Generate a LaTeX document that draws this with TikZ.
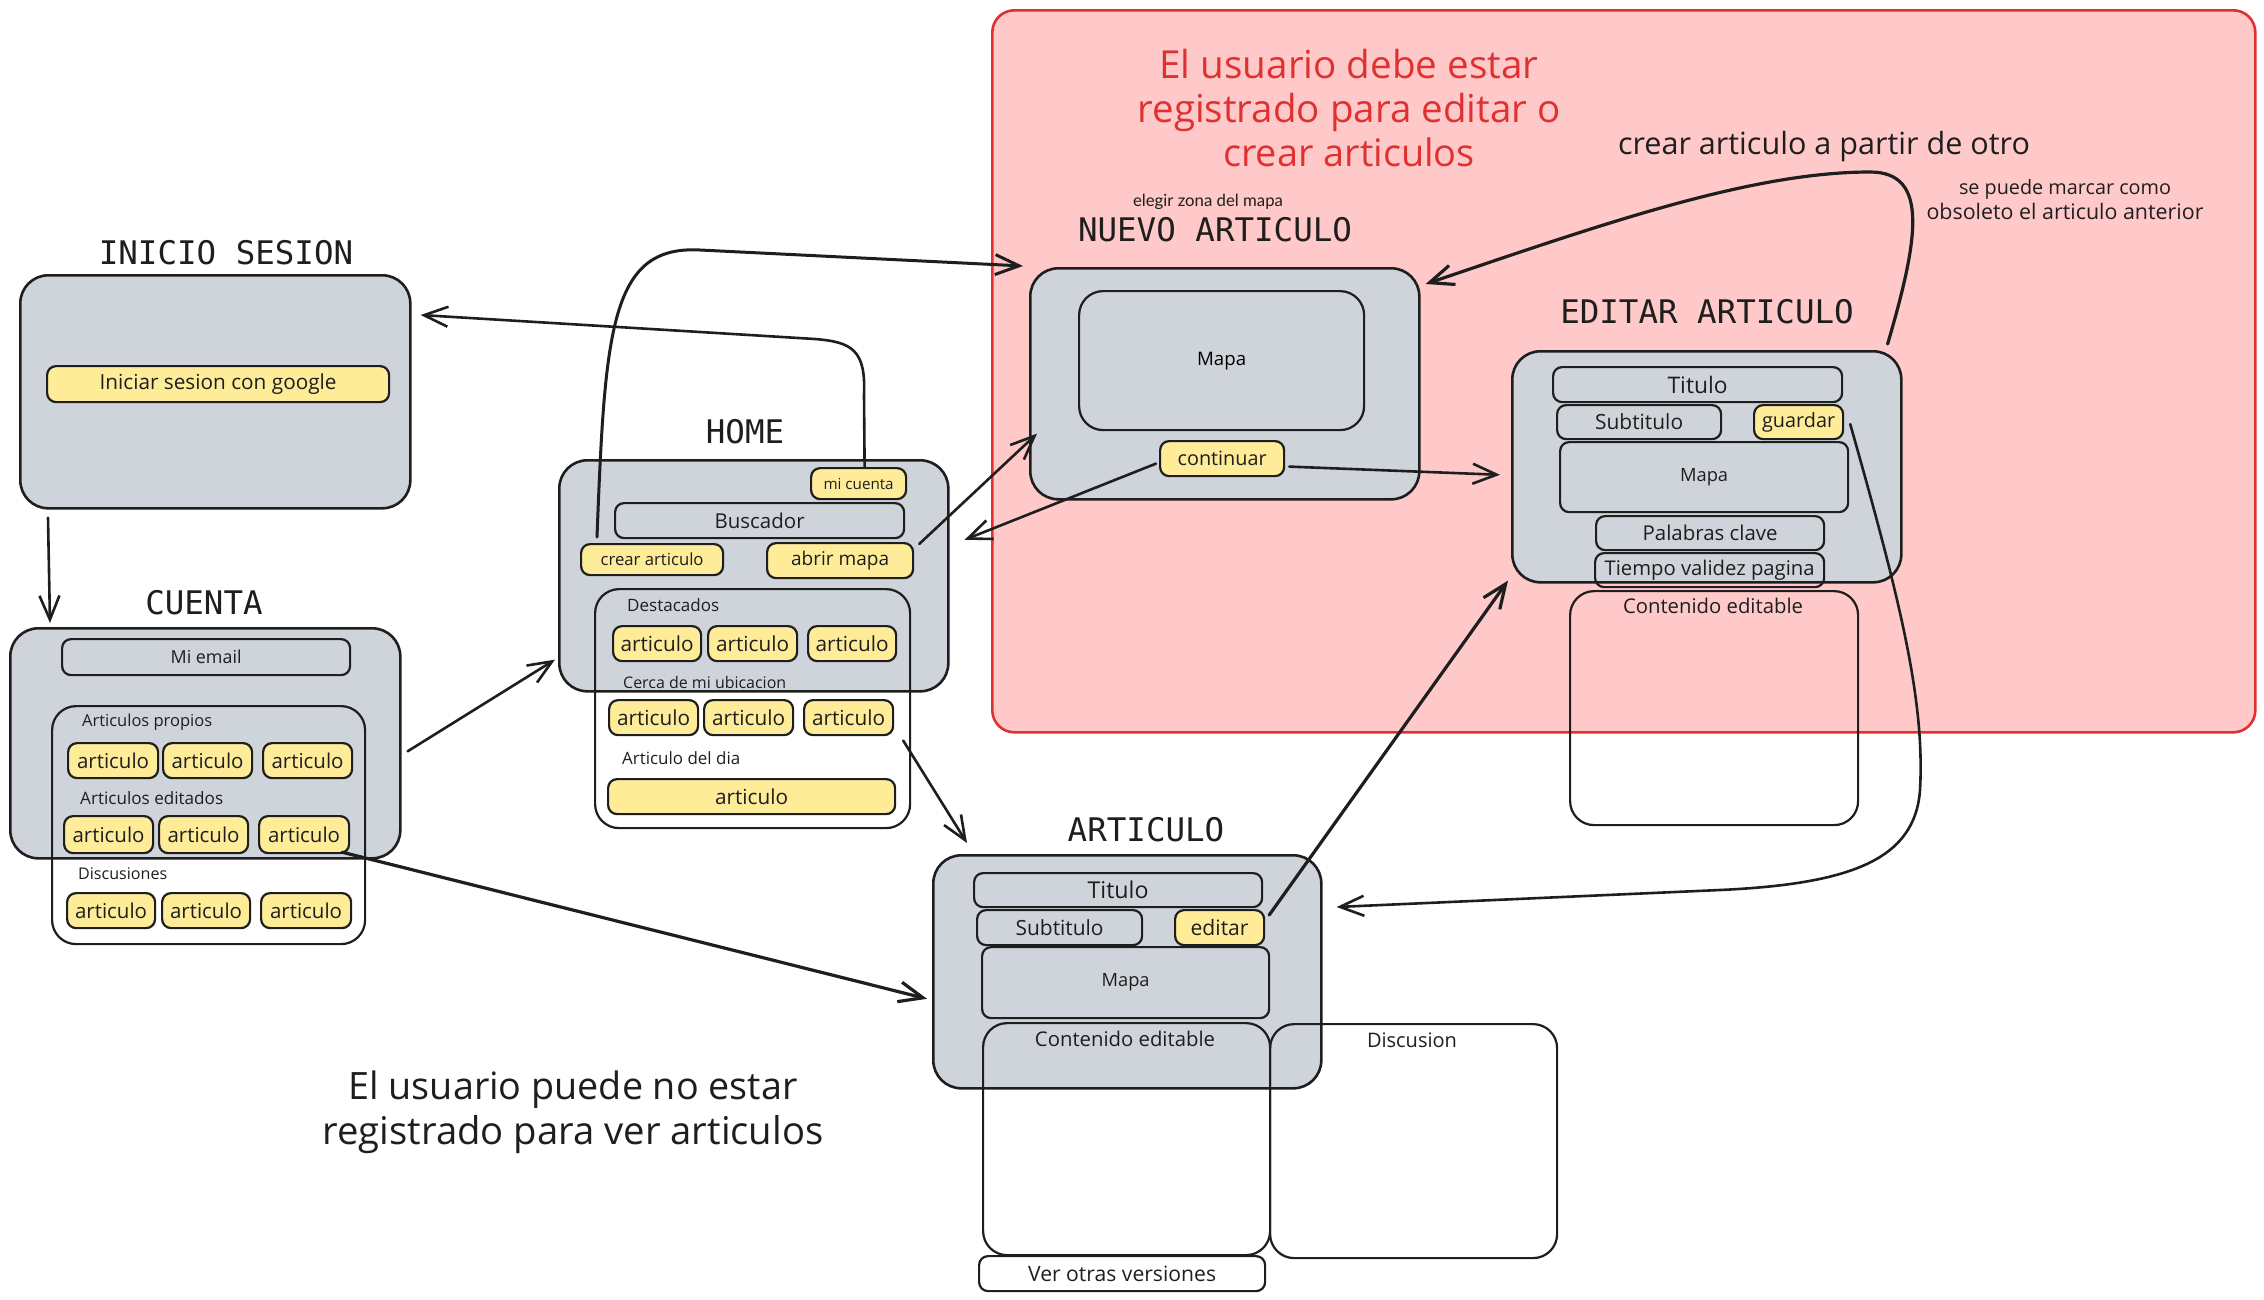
\documentclass[tikz,border=0pt]{standalone}
\usepackage{fontspec}
\usepackage{graphicx}
\setmainfont{Open Sans}
\newfontfamily\titlefont{DejaVu Sans Mono}
\newfontfamily\normfont{Lato}
\usetikzlibrary{arrows.meta,calc}
\definecolor{ink}{HTML}{1E1E1E}
\definecolor{scr}{HTML}{CED4DA}
\definecolor{btn}{HTML}{FFEC99}
\definecolor{zonefill}{HTML}{FFC9C9}
\definecolor{zonered}{HTML}{E03131}
\newcommand\lbl[2]{\resizebox{#1pt}{!}{#2}}
\newcommand\mybox[7]{\node[#1, anchor=north west, minimum width={(#5-#3)*1pt}, minimum height={(#6-#4)*1pt}] (#2) at (#3,#4) {#7};}
\tikzset{
  screen/.style={draw=ink, fill=scr, line width=2.6pt, rounded corners=28pt, inner sep=0pt},
  field/.style={draw=ink, line width=2.2pt, rounded corners=9pt, inner sep=0pt, text=ink},
  button/.style={field, fill=btn},
  panel/.style={draw=ink, line width=2.2pt, rounded corners=24pt, inner sep=0pt},
  redzone/.style={draw=zonered, fill=zonefill, line width=2.6pt, rounded corners=22pt, inner sep=0pt},
  ttl/.style={font=\titlefont\fontsize{32.5}{39}\selectfont, text=ink, inner sep=0pt},
  lab/.style={text=ink, inner sep=0pt},
  arr/.style={draw=ink, line width=2.6pt, line cap=round, -{Straight Barb[length=24pt,width=20pt]}},
}
\begin{document}
\begin{tikzpicture}[x=1pt,y=-1pt]
\useasboundingbox (0,0) rectangle (2264,1299);

% registered-users zone
\mybox{redzone}{zone}{991}{9}{2254}{731}{}
\node[lab, text=zonered, align=center, font=\fontsize{30}{44}\selectfont] (note1) at (1349,108)
  {\lbl{379}{El usuario debe estar}\\\lbl{423}{registrado para editar o}\\\lbl{252}{crear articulos}};
\node[lab] (note2) at (1824,147) {\lbl{412}{crear articulo a partir de otro}};
\node[lab, align=center, font=\fontsize{16}{25}\selectfont] (note3) at (2065,200)
  {\lbl{212}{se puede marcar como}\\\lbl{277}{obsoleto el articulo anterior}};
\node[lab, align=center, font=\fontsize{30}{45}\selectfont] (note4) at (573,1112)
  {\lbl{449}{El usuario puede no estar}\\\lbl{501}{registrado para ver articulos}};

% INICIO SESION
\node[ttl] (tinicio) at (226,253) {INICIO SESION};
\mybox{screen}{inicio}{19}{274}{409}{507}{}
\mybox{button}{google}{46}{365}{388}{401}{\lbl{237}{Iniciar sesion con google}}

% CUENTA
\node[ttl] (tcuenta) at (204,603) {CUENTA};
\mybox{screen}{cuenta}{9}{627}{399}{857}{}
\mybox{field}{email}{61}{638}{349}{674}{\lbl{71}{Mi email}}
\mybox{panel}{cinner}{51}{705}{364}{943}{}
\node[lab, anchor=west] (lprop) at (82,722) {\lbl{130}{Articulos propios}};
\mybox{button}{c1a}{67}{742}{157}{777}{\lbl{72}{articulo}}
\mybox{button}{c1b}{162}{742}{251}{777}{\lbl{72}{articulo}}
\mybox{button}{c1c}{262}{742}{351}{777}{\lbl{72}{articulo}}
\node[lab, anchor=west] (ledit) at (80,798) {\lbl{143}{Articulos editados}};
\mybox{button}{c2a}{63}{815}{152}{852}{\lbl{72}{articulo}}
\mybox{button}{c2b}{158}{815}{247}{852}{\lbl{72}{articulo}}
\mybox{button}{c2c}{258}{815}{348}{852}{\lbl{72}{articulo}}
\node[lab, anchor=west] (ldisc) at (78,874) {\lbl{89}{Discusiones}};
\mybox{button}{c3a}{66}{892}{154}{927}{\lbl{72}{articulo}}
\mybox{button}{c3b}{161}{892}{249}{927}{\lbl{72}{articulo}}
\mybox{button}{c3c}{260}{892}{350}{927}{\lbl{72}{articulo}}

% HOME
\node[ttl] (thome) at (745,432) {HOME};
\mybox{screen}{home}{558}{459}{947}{690}{}
\mybox{button}{micuenta}{810}{467}{905}{498}{\lbl{70}{mi cuenta}}
\mybox{field}{buscador}{614}{502}{903}{537}{\lbl{90}{Buscador}}
\mybox{button}{crear}{580}{543}{722}{574}{\lbl{103}{crear articulo}}
\mybox{button}{abrir}{766}{542}{912}{577}{\lbl{98}{abrir mapa}}
\mybox{panel}{hinner}{594}{588}{909}{827}{}
\node[lab, anchor=west] (ldest) at (627,605) {\lbl{92}{Destacados}};
\mybox{button}{h1a}{612}{625}{700}{660}{\lbl{73}{articulo}}
\mybox{button}{h1b}{707}{625}{796}{660}{\lbl{73}{articulo}}
\mybox{button}{h1c}{807}{625}{895}{660}{\lbl{73}{articulo}}
\node[lab, anchor=west] (lcerca) at (623,682) {\lbl{163}{Cerca de mi ubicacion}};
\mybox{button}{h2a}{608}{699}{697}{734}{\lbl{73}{articulo}}
\mybox{button}{h2b}{703}{699}{792}{734}{\lbl{73}{articulo}}
\mybox{button}{h2c}{803}{699}{892}{734}{\lbl{73}{articulo}}
\node[lab, anchor=west] (ldia) at (622,758) {\lbl{118}{Articulo del dia}};
\mybox{button}{hdia}{607}{778}{894}{813}{\lbl{73}{articulo}}

% NUEVO ARTICULO
\node[lab] (lzona) at (1208,202) {\lbl{150}{\normfont elegir zona del mapa}};
\node[ttl] (tnuevo) at (1215,230) {NUEVO ARTICULO};
\mybox{screen}{nuevo}{1029}{267}{1418}{498}{}
\mybox{panel}{nmapa}{1078}{290}{1363}{429}{\lbl{49}{Mapa}}
\mybox{button}{continuar}{1159}{440}{1283}{475}{\lbl{89}{continuar}}

% EDITAR ARTICULO
\node[ttl] (teditar) at (1707,312) {EDITAR ARTICULO};
\mybox{screen}{editscr}{1511}{350}{1900}{581}{}
\mybox{field}{etitulo}{1552}{366}{1841}{401}{\lbl{60}{Titulo}}
\mybox{field}{esub}{1556}{404}{1720}{438}{\lbl{88}{Subtitulo}}
\mybox{button}{guardar}{1753}{404}{1842}{438}{\lbl{73}{guardar}}
\mybox{field}{emapa}{1559}{441}{1847}{511}{\lbl{48}{Mapa}}
\mybox{field}{eclave}{1595}{515}{1823}{549}{\lbl{135}{Palabras clave}}
\mybox{field}{etiempo}{1594}{552}{1823}{586}{\lbl{210}{Tiempo validez pagina}}
\mybox{panel}{econt}{1569}{590}{1857}{824}{}
\node[lab] (lecont) at (1713,606) {\lbl{180}{Contenido editable}};

% ARTICULO
\node[ttl] (tart) at (1146,830) {ARTICULO};
\mybox{screen}{articulo}{932}{854}{1320}{1087}{}
\mybox{field}{atitulo}{973}{872}{1261}{906}{\lbl{61}{Titulo}}
\mybox{field}{asub}{976}{909}{1141}{944}{\lbl{88}{Subtitulo}}
\mybox{button}{editbtn}{1174}{909}{1263}{944}{\lbl{58}{editar}}
\mybox{field}{amapa}{981}{946}{1268}{1017}{\lbl{48}{Mapa}}
\mybox{panel}{acont}{982}{1022}{1269}{1254}{}
\node[lab] (lacont) at (1125,1039) {\lbl{180}{Contenido editable}};
\mybox{panel}{adisc}{1269}{1023}{1556}{1257}{}
\node[lab] (ladisc) at (1412,1040) {\lbl{90}{Discusion}};
\mybox{field}{aver}{978}{1255}{1264}{1290}{\lbl{188}{Ver otras versiones}}

% connectors
\draw[arr] ($(inicio.south west)+(29,8)$) -- ($(cuenta.north west)+(41,-4)$);
\draw[arr] ($(micuenta.north)+(6,0)$) -- (864,395) .. controls (866,350) and (852,342) .. (815,339) -- ($(inicio.north east)+(9,41)$);
\draw[arr, line width=3pt] ($(crear.north west)+(17,-6)$) .. controls (605,330) and (610,245) .. (700,250) -- ($(nuevo.north west)+(-6,-1)$);
\draw[arr] ($(cuenta.east)+(6,8)$) -- ($(home.south west)+(-3,-33)$);
\draw[arr, line width=3.2pt] ($(c2c.south east)+(-8,-2)$) -- ($(articulo.west)+(-5,27)$);
\draw[arr] ($(abrir.north east)+(5,2)$) -- ($(nuevo.south west)+(8,-67)$);
\draw[arr] ($(continuar.west)+(-3,5)$) -- ($(home.east)+(15,-36)$);
\draw[arr] ($(continuar.east)+(4,8)$) -- ($(editscr.west)+(-11,8)$);
\draw[arr] ($(hinner.east)+(-8,32)$) -- ($(articulo.north west)+(35,-11)$);
\draw[arr, line width=3.2pt] ($(editbtn.north east)+(4,6)$) -- ($(editscr.south west)+(-3,-3)$);
\draw[arr] ($(guardar.east)+(6,2)$) .. controls (1900,600) and (1925,700) .. (1920,790) .. controls (1915,860) and (1850,884) .. (1720,890) -- ($(articulo.north east)+(14,53)$);
\draw[arr, line width=3.2pt] ($(editscr.north east)+(-15,-6)$) .. controls (1918,240) and (1930,172) .. (1870,172) .. controls (1750,172) and (1600,225) .. ($(nuevo.north east)+(5,17)$);
\end{tikzpicture}
\end{document}
